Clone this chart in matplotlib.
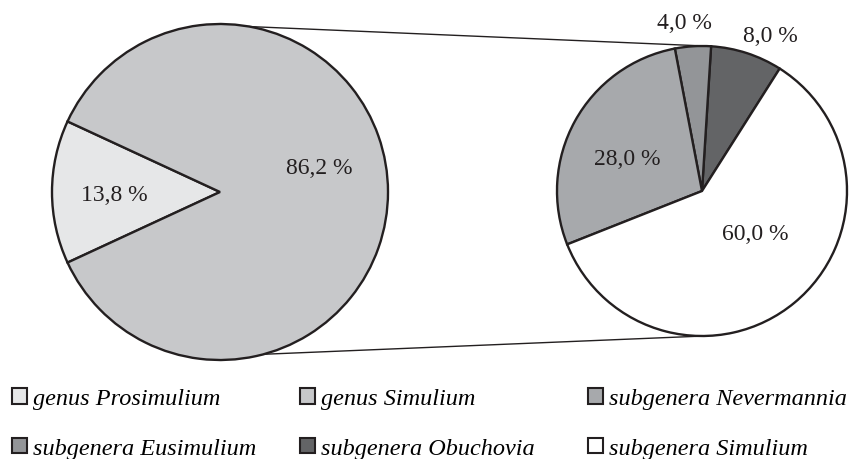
import numpy as np
import matplotlib.pyplot as plt
from matplotlib.patches import Patch

# genus split (left pie) and subgenera of Simulium (right pie)
genus_names = ["genus Prosimulium", "genus Simulium"]
genus_pct = [13.8, 86.2]
sub_names = ["subgenera Obuchovia", "subgenera Eusimulium",
             "subgenera Nevermannia", "subgenera Simulium"]
sub_pct = [8.0, 4.0, 28.0, 60.0]

# legend columns, top to bottom
legend_cols = [["genus Prosimulium", "subgenera Eusimulium"],
               ["genus Simulium", "subgenera Obuchovia"],
               ["subgenera Nevermannia", "subgenera Simulium"]]

colors = {
    "genus Prosimulium": "#e6e7e8",
    "genus Simulium": "#c7c8ca",
    "subgenera Nevermannia": "#a7a9ac",
    "subgenera Eusimulium": "#939598",
    "subgenera Obuchovia": "#636466",
    "subgenera Simulium": "#ffffff",
}

W, H = 855, 460
fig = plt.figure(figsize=(W / 100, H / 100), dpi=100)
ax = fig.add_axes([0, 0, 1, 1])

left_c, left_r = (220, H - 193), 168
right_c, right_r = (702, H - 192), 145

wp = dict(edgecolor="#231f20", linewidth=1.7)
lw, _ = ax.pie(genus_pct, colors=[colors[n] for n in genus_names],
               startangle=180 - genus_pct[0] * 1.8, counterclock=True,
               center=left_c, radius=left_r, wedgeprops=wp, frame=True)
rw, _ = ax.pie(sub_pct, colors=[colors[n] for n in sub_names],
               startangle=57.6, counterclock=True,
               center=right_c, radius=right_r, wedgeprops=wp, frame=True)

# label placement: (angle offset from wedge middle, distance as fraction of radius)
left_lab = [(1.6, 0.63), (14, 0.61)]
right_lab = [(-5.6, 1.17), (2.5, 1.17), (5.4, 0.56), (11.5, 0.47)]


def put_labels(wedges, values, places, c, r):
    for w, v, (da, fr) in zip(wedges, values, places):
        mid = np.deg2rad((w.theta1 + w.theta2) / 2 + da)
        x = c[0] + fr * r * np.cos(mid)
        y = c[1] + fr * r * np.sin(mid)
        ax.text(x, y, f"{v:.1f} %".replace(".", ","), ha="center", va="center",
                fontsize=17, family="Liberation Serif", color="#231f20")


put_labels(lw, genus_pct, left_lab, left_c, left_r)
put_labels(rw, sub_pct, right_lab, right_c, right_r)

# connector lines between the two pies
for a_left, a_right in [(80, 88), (-75, -89)]:
    p1 = (left_c[0] + left_r * np.cos(np.deg2rad(a_left)),
          left_c[1] + left_r * np.sin(np.deg2rad(a_left)))
    p2 = (right_c[0] + right_r * np.cos(np.deg2rad(a_right)),
          right_c[1] + right_r * np.sin(np.deg2rad(a_right)))
    ax.plot([p1[0], p2[0]], [p1[1], p2[1]], color="#231f20", lw=1.0, zorder=0)

ax.set_xlim(0, W)
ax.set_ylim(0, H)
ax.set_aspect("equal")
ax.axis("off")

col_x = [12, 300, 588]
for x0, names in zip(col_x, legend_cols):
    handles = [Patch(facecolor=colors[n], edgecolor="#231f20", linewidth=1.5)
               for n in names]
    leg = fig.legend(handles, names, loc="upper left",
                     bbox_to_anchor=(x0 / W, 1 - 389 / H), frameon=False,
                     handlelength=0.62, handleheight=0.62, handletextpad=0.25,
                     labelspacing=1.16, borderaxespad=0, borderpad=0,
                     prop=dict(family="Liberation Serif", style="italic", size=17.5))

fig.savefig("out.png", dpi=100)
